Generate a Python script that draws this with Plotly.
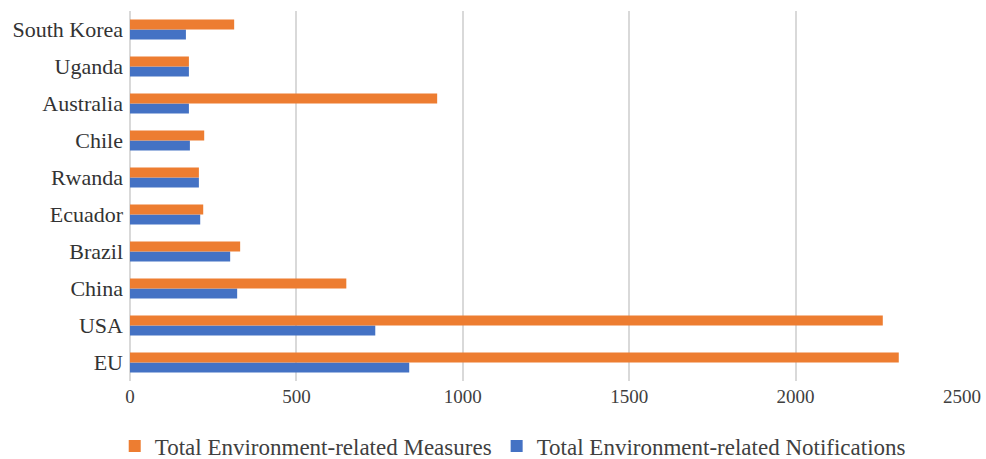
import plotly.graph_objects as go

countries = ["EU", "USA", "China", "Brazil", "Ecuador", "Rwanda", "Chile", "Australia", "Uganda", "South Korea"]
measures = [2310, 2262, 650, 331, 220, 207, 223, 923, 177, 313]
notifications = [839, 737, 322, 301, 211, 207, 180, 177, 177, 168]

font_family = "Liberation Serif"

fig = go.Figure()
fig.add_trace(go.Bar(
    y=countries, x=notifications, orientation="h",
    name="Total Environment-related Notifications",
    marker=dict(color="#4472C4", line=dict(width=0)), legendrank=2,
))
fig.add_trace(go.Bar(
    y=countries, x=measures, orientation="h",
    name="Total Environment-related Measures",
    marker=dict(color="#ED7D31", line=dict(width=0)), legendrank=1,
))

fig.update_layout(
    width=986, height=459,
    margin=dict(l=130, r=24, t=11, b=78, autoexpand=False),
    barmode="group", bargap=0.46, bargroupgap=0,
    plot_bgcolor="white", paper_bgcolor="white",
    font=dict(family=font_family, color="#333333", size=22),
    xaxis=dict(
        range=[0, 2500], tickvals=[0, 500, 1000, 1500, 2000, 2500],
        showgrid=True, gridcolor="#D9D9D9", gridwidth=1.5,
        zeroline=True, zerolinecolor="#D9D9D9", zerolinewidth=1.5,
        tickfont=dict(family=font_family, size=19, color="#404040"),
        ticks="", showline=False, ticklabelstandoff=2,
    ),
    yaxis=dict(
        categoryorder="array", categoryarray=countries,
        showgrid=False, ticks="", ticklabelstandoff=6,
        tickfont=dict(family=font_family, size=22, color="#333333"),
    ),
    legend=dict(
        orientation="h", xref="container", yref="container",
        x=0.52, xanchor="center", y=0.028, yanchor="middle",
        font=dict(family=font_family, size=23, color="#404040"), itemwidth=30,
        traceorder="normal",
    ),
)

fig.write_html("out.html")
